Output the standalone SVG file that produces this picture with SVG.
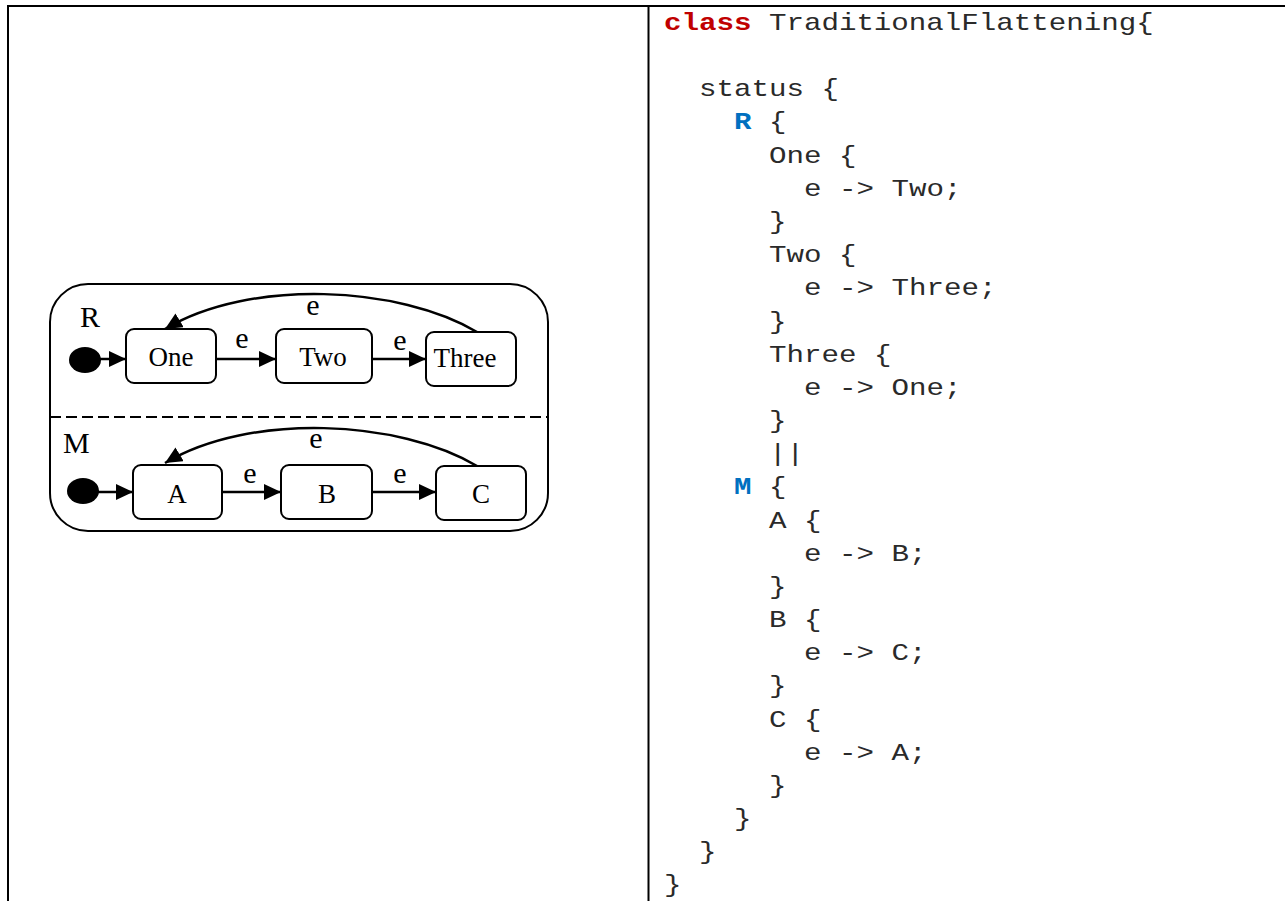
<svg xmlns="http://www.w3.org/2000/svg" width="1285" height="901" viewBox="0 0 1285 901">
<style>
.frame{fill:none;stroke:#000;stroke-width:2}
.st{fill:#fff;stroke:#000;stroke-width:2}
.ln{fill:none;stroke:#000;stroke-width:2.5}
.lbl{font-family:"Liberation Serif","Times New Roman",serif;font-size:27px;fill:#000;text-anchor:middle}
.ev{font-family:"Liberation Serif","Times New Roman",serif;font-size:30px;fill:#000;text-anchor:middle}
.reg{font-family:"Liberation Serif","Times New Roman",serif;font-size:30px;fill:#000}
.code{font-family:"Liberation Mono","Courier New",monospace;font-size:24px;fill:#2a2a2a}
.cls{fill:#C00000;font-weight:bold}
.kw{fill:#0070C0;font-weight:bold}
</style>
<defs>
<marker id="ah" markerUnits="userSpaceOnUse" markerWidth="18" markerHeight="16" refX="17" refY="8" orient="auto">
<path d="M0,0 L17,8 L0,16 z" fill="#000"/>
</marker>
</defs>
<rect width="1285" height="901" fill="#fff"/>
<g id="table">
<line x1="8" y1="6" x2="1285" y2="6" class="frame"/>
<line x1="8" y1="5" x2="8" y2="901" class="frame"/>
<line x1="648.5" y1="5" x2="648.5" y2="901" class="frame"/>
</g>
<g id="status">
<rect x="50" y="284" width="498" height="247" rx="38" class="frame" stroke-width="2.2"/>
<line x1="50" y1="417" x2="548" y2="417" stroke="#000" stroke-width="2" stroke-dasharray="11,5"/>
<text class="reg" x="80" y="327">R</text>
<text class="reg" x="63" y="453">M</text>
</g>
<g id="initR"><ellipse cx="85" cy="360" rx="16" ry="13" fill="#000"/></g>
<g id="One"><rect x="126" y="329" width="90" height="54" rx="8" class="st"/><text class="lbl" x="171" y="366">One</text></g>
<g id="Two"><rect x="276" y="329" width="96" height="54" rx="8" class="st"/><text class="lbl" x="323" y="366">Two</text></g>
<g id="Three"><rect x="426" y="332" width="90" height="54" rx="8" class="st"/><text class="lbl" x="465" y="367">Three</text></g>
<g id="initM"><ellipse cx="83" cy="491" rx="16" ry="13" fill="#000"/></g>
<g id="A"><rect x="133" y="465" width="89" height="54" rx="8" class="st"/><text class="lbl" x="177" y="503">A</text></g>
<g id="B"><rect x="281" y="465" width="91" height="54" rx="8" class="st"/><text class="lbl" x="327" y="503">B</text></g>
<g id="C"><rect x="436" y="466" width="90" height="54" rx="8" class="st"/><text class="lbl" x="481" y="503">C</text></g>
<g id="connectors">
<line x1="100" y1="359" x2="126" y2="359" class="ln" marker-end="url(#ah)"/>
<line x1="216" y1="359" x2="276" y2="359" class="ln" marker-end="url(#ah)"/>
<line x1="372" y1="359" x2="426" y2="359" class="ln" marker-end="url(#ah)"/>
<path d="M477,332 C400,286 250,278 165,329" class="ln" marker-end="url(#ah)"/>
<line x1="98" y1="492" x2="133" y2="492" class="ln" marker-end="url(#ah)"/>
<line x1="222" y1="492" x2="281" y2="492" class="ln" marker-end="url(#ah)"/>
<line x1="372" y1="492" x2="436" y2="492" class="ln" marker-end="url(#ah)"/>
<path d="M477,466 C400,420 250,412 165,463" class="ln" marker-end="url(#ah)"/>
<text class="ev" x="242" y="348">e</text>
<text class="ev" x="400" y="350">e</text>
<text class="ev" x="313" y="315">e</text>
<text class="ev" x="250" y="483">e</text>
<text class="ev" x="400" y="483">e</text>
<text class="ev" x="316" y="448">e</text>
</g>
<g id="code" transform="translate(664,0) scale(1.2153,1)" class="code">
<text x="0" y="30"><tspan class="cls">class</tspan> TraditionalFlattening{</text>
<text x="28.8" y="96.3">status {</text>
<text x="57.6" y="129.5"><tspan class="kw">R</tspan> {</text>
<text x="86.4" y="162.7">One {</text>
<text x="115.2" y="195.9">e -&gt; Two;</text>
<text x="86.4" y="229">}</text>
<text x="86.4" y="262.2">Two {</text>
<text x="115.2" y="295.4">e -&gt; Three;</text>
<text x="86.4" y="328.6">}</text>
<text x="86.4" y="361.7">Three {</text>
<text x="115.2" y="394.9">e -&gt; One;</text>
<text x="86.4" y="428.1">}</text>
<text x="86.4" y="461.2">||</text>
<text x="57.6" y="494.4"><tspan class="kw">M</tspan> {</text>
<text x="86.4" y="527.6">A {</text>
<text x="115.2" y="560.8">e -&gt; B;</text>
<text x="86.4" y="593.9">}</text>
<text x="86.4" y="627.1">B {</text>
<text x="115.2" y="660.3">e -&gt; C;</text>
<text x="86.4" y="693.5">}</text>
<text x="86.4" y="726.6">C {</text>
<text x="115.2" y="759.8">e -&gt; A;</text>
<text x="86.4" y="793">}</text>
<text x="57.6" y="826.2">}</text>
<text x="28.8" y="859.3">}</text>
<text x="0" y="892.5">}</text>
</g>
</svg>
